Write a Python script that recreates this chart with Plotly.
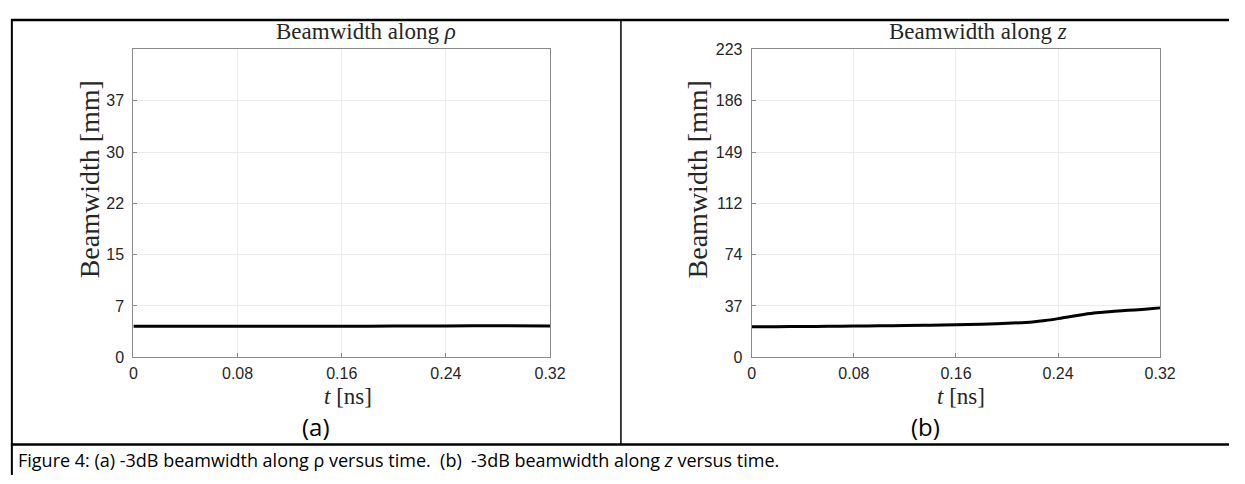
import plotly.graph_objects as go

W, H = 1245, 484

# ---- data ----
t_rho = [0.00, 0.04, 0.08, 0.12, 0.16, 0.20, 0.24, 0.28, 0.32]
bw_rho = [4.50, 4.50, 4.50, 4.50, 4.50, 4.52, 4.55, 4.58, 4.55]

t_z = [0.00, 0.02, 0.04, 0.06, 0.08, 0.10, 0.12, 0.14, 0.16, 0.18, 0.20,
       0.22, 0.23, 0.24, 0.25, 0.26, 0.27, 0.28, 0.29, 0.30, 0.31, 0.32]
bw_z = [22.2, 22.2, 22.3, 22.4, 22.6, 22.8, 23.0, 23.3, 23.6, 24.0, 24.6,
        25.6, 26.6, 28.0, 29.6, 31.0, 32.2, 33.0, 33.7, 34.3, 35.0, 35.8]

x_ticks = [0, 0.08, 0.16, 0.24, 0.32]
x_ticktext = ["0", "0.08", "0.16", "0.24", "0.32"]

y_max_rho = 44.6
y_ticks_rho = [0, 7.433, 14.867, 22.3, 29.733, 37.167, 44.6]
y_ticktext_rho = ["0", "7", "15", "22", "30", "37", ""]

y_max_z = 223
y_ticks_z = [0, 37.17, 74.33, 111.5, 148.67, 185.83, 223]
y_ticktext_z = ["0", "37", "74", "112", "149", "186", "223"]

titles = ["Beamwidth along <i>ρ</i>", "Beamwidth along <i>z</i>"]
panel_labels = ["(a)", "(b)"]
caption = "Figure 4: (a) -3dB beamwidth along ρ versus time.  (b)  -3dB beamwidth along <i>z</i> versus time."


def px(x):
    return x / W


def py(y):
    return 1 - y / H


fig = go.Figure()
fig.add_trace(go.Scatter(x=t_rho, y=bw_rho, mode="lines", line=dict(color="black", width=3, shape="spline"),
                         xaxis="x", yaxis="y", showlegend=False, hoverinfo="skip"))
fig.add_trace(go.Scatter(x=t_z, y=bw_z, mode="lines", line=dict(color="black", width=3, shape="spline"),
                         xaxis="x2", yaxis="y2", showlegend=False, hoverinfo="skip"))

tickfont = dict(family="Liberation Sans, Arial, sans-serif", size=16, color="#262626")
common_x = dict(range=[0, 0.32], tickvals=x_ticks, ticktext=x_ticktext, showgrid=True,
                gridcolor="#ebebeb", gridwidth=1, showline=True, linecolor="#8a8a8a", linewidth=1.2,
                mirror=True, ticks="inside", ticklen=4, tickcolor="#8a8a8a", tickfont=tickfont,
                zeroline=False, fixedrange=True, ticklabelstandoff=1)
common_y = dict(showgrid=True, gridcolor="#ebebeb", gridwidth=1, showline=True, linecolor="#8a8a8a",
                linewidth=1.2, mirror=True, ticks="inside", ticklen=4, tickcolor="#8a8a8a",
                tickfont=tickfont, zeroline=False, fixedrange=True, ticklabelstandoff=5)

fig.update_layout(
    width=W, height=H,
    margin=dict(l=0, r=0, t=0, b=0),
    paper_bgcolor="white", plot_bgcolor="white",
    xaxis=dict(domain=[px(131.5), px(555)], anchor="y", **common_x),
    yaxis=dict(domain=[py(362), py(43)], anchor="x", range=[0, y_max_rho],
               tickvals=y_ticks_rho, ticktext=y_ticktext_rho, **common_y),
    xaxis2=dict(domain=[px(760), px(1175)], anchor="y2", **common_x),
    yaxis2=dict(domain=[py(362), py(43)], anchor="x2", range=[0, y_max_z],
                tickvals=y_ticks_z, ticktext=y_ticktext_z, **common_y),
)

serif = "Liberation Serif, Times New Roman, serif"
sans = "Open Sans, Noto Sans, sans-serif"
ann = []
# subplot titles
for cx, txt in [(368, titles[0]), (990, titles[1])]:
    ann.append(dict(x=px(cx), y=py(24), xref="paper", yref="paper", text=txt, showarrow=False,
                    font=dict(family=serif, size=23, color="#262626"), xanchor="center", yanchor="middle"))
# y axis titles
for cx in [87, 705]:
    ann.append(dict(x=px(cx), y=py(178), xref="paper", yref="paper", text="Beamwidth [mm]", showarrow=False,
                    textangle=-90, font=dict(family=serif, size=28, color="#262626"),
                    xanchor="center", yanchor="middle"))
# x axis titles
for cx in [350, 973]:
    ann.append(dict(x=px(cx), y=py(403), xref="paper", yref="paper", text="<i>t</i> [ns]", showarrow=False,
                    font=dict(family=serif, size=23, color="#262626"), xanchor="center", yanchor="middle"))
# panel labels
for cx, txt in [(317, panel_labels[0]), (937, panel_labels[1])]:
    ann.append(dict(x=px(cx), y=py(434), xref="paper", yref="paper", text=txt, showarrow=False,
                    font=dict(family=sans, size=24, color="black"), xanchor="center", yanchor="middle"))
# caption
ann.append(dict(x=px(12), y=py(468), xref="paper", yref="paper", text=caption, showarrow=False,
                font=dict(family=sans, size=18, color="black"), xanchor="left", yanchor="middle"))
fig.update_layout(annotations=ann)

# table borders
shapes = [
    dict(type="line", xref="paper", yref="paper", x0=px(7), x1=1, y0=py(12.5), y1=py(12.5),
         line=dict(color="black", width=2.5)),
    dict(type="line", xref="paper", yref="paper", x0=px(8), x1=px(8), y0=py(12), y1=0,
         line=dict(color="black", width=2)),
    dict(type="line", xref="paper", yref="paper", x0=px(627), x1=px(627), y0=py(12), y1=py(452),
         line=dict(color="black", width=1.5)),
    dict(type="line", xref="paper", yref="paper", x0=px(7), x1=1, y0=py(452.5), y1=py(452.5),
         line=dict(color="black", width=2.5)),
]
fig.update_layout(shapes=shapes)

fig.write_html("out.html", config={"displayModeBar": False},
               post_script="document.body.style.margin='0';document.body.style.overflow='hidden';")
